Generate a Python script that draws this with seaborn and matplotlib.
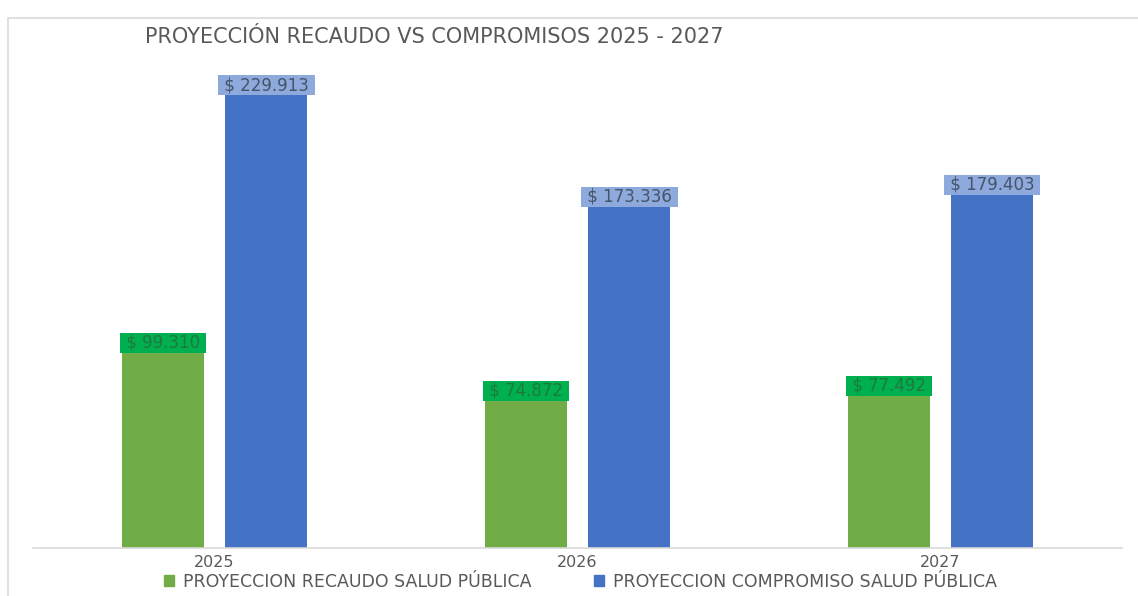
import matplotlib
matplotlib.use("Agg")
import matplotlib.pyplot as plt
import seaborn as sns
import pandas as pd
from matplotlib.patches import Rectangle

years = ["2025", "2026", "2027"]
recaudo = [99310, 74872, 77492]
compromiso = [229913, 173336, 179403]
series_names = ["PROYECCION RECAUDO SALUD PÚBLICA", "PROYECCION COMPROMISO SALUD PÚBLICA"]
title = "PROYECCIÓN RECAUDO VS COMPROMISOS 2025 - 2027"

df = pd.DataFrame({
    "year": years * 2,
    "value": recaudo + compromiso,
    "serie": [series_names[0]] * 3 + [series_names[1]] * 3,
})

sns.set_theme(style="white")
plt.rcParams["font.family"] = ["DejaVu Sans"]

W, H = 1138, 596
fig = plt.figure(figsize=(W / 100, H / 100), dpi=100)
ax = fig.add_axes([33 / W, 1 - 548 / H, (1122 - 33) / W, (548 - 55) / H])

colors = {series_names[0]: "#70AD47", series_names[1]: "#4472C4"}
sns.barplot(data=df, x="year", y="value", hue="serie", palette=colors,
            width=0.57, gap=0.207, ax=ax, legend=False, saturation=1,
            edgecolor="none", linewidth=0)

ax.set_ylim(0, 250000)
ax.set_xlim(-0.5, 2.5)
ax.set_xlabel("")
ax.set_ylabel("")
ax.set_yticks([])
for s in ["top", "right", "left"]:
    ax.spines[s].set_visible(False)
ax.spines["bottom"].set_color("#D9D9D9")
ax.spines["bottom"].set_linewidth(1.2)
ax.tick_params(axis="x", colors="#595959", labelsize=11.5, length=0, pad=5)

box_styles = [
    dict(face="#00B050", text="#1E7A3C"),
    dict(face="#8EA9DB", text="#44546A"),
]
for i, cont in enumerate(ax.containers):
    st = box_styles[i]
    for bar in cont:
        x = bar.get_x() + bar.get_width() / 2
        h = bar.get_height()
        ax.annotate(f" $ {h / 1000:.3f} ", (x, h),
                    xytext=(0, 0.3), textcoords="offset points",
                    ha="center", va="bottom", fontsize=12, color=st["text"],
                    bbox=dict(boxstyle="square,pad=0.05", fc=st["face"], ec="none"))

fig.text(145 / W, 1 - 37 / H, title, ha="left", va="center",
         fontsize=15, color="#595959")

handles = [Rectangle((0, 0), 1, 1, color=colors[n]) for n in series_names]
fig.legend(handles, series_names, loc="center", bbox_to_anchor=(0.51, 1 - 582 / H),
           ncol=2, frameon=False, fontsize=12.5, handlelength=0.6, handleheight=0.6,
           columnspacing=3.6, handletextpad=0.5, labelcolor="#595959")

fig.patches.append(Rectangle((8 / W, -0.01), 1.2, 1 - 18 / H + 0.01,
                             transform=fig.transFigure, fill=False,
                             ec="#D9D9D9", lw=1.2))

fig.savefig("out.png", dpi=100, facecolor="white")
